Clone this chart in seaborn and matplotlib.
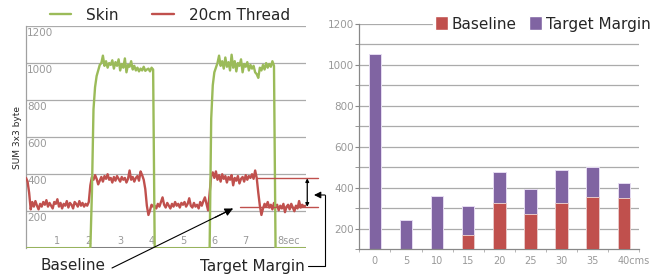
import matplotlib
matplotlib.use("Agg")
import matplotlib.pyplot as plt
import matplotlib.transforms as mtrans
from matplotlib.lines import Line2D
from matplotlib.patches import Patch
import seaborn as sns
import pandas as pd
import numpy as np

# ---- left chart: signal over time (sampled every 0.05 s) ----
t_sec = np.round(np.arange(179) * 0.05, 2)

skin = ([0] * 42 +
        [300, 750, 870, 930, 960, 990, 1000, 1040, 985, 1010,
         975, 1000, 990, 1015, 970, 1005, 985, 1020, 960, 995,
         975, 1025, 950, 990, 980, 1010, 965, 985, 960, 975,
         955, 970, 960, 980, 958, 965, 970, 955, 975, 965] +
        [0] * 36 +
        [700, 880, 950, 975, 1000, 1040, 985, 1010, 970, 1030,
         980, 1005, 960, 1045, 975, 1010, 955, 1000, 985, 1020,
         950, 995, 980, 1005, 960, 990, 970, 985, 950, 940,
         920, 975, 960, 990, 965, 1000, 975, 995, 980, 1010,
         985] +
        [0] * 20)

thread = ([380, 360, 300, 210, 250, 225, 255, 230, 210, 240,
           225, 250, 235, 260, 225, 245, 230, 215, 250, 240,
           265, 225, 245, 215, 240, 230, 255, 220, 245, 235,
           215, 250, 240, 225, 255, 230, 245, 225, 240, 230,
           250, 340] +
          [385, 370, 395, 375, 345, 365, 385, 360, 390, 375,
           400, 370, 380, 355, 385, 365, 390, 375, 360, 385,
           370, 380, 355, 375, 420, 370, 385, 360, 380, 390,
           365, 415, 395, 370, 320, 230, 180, 205, 235, 225] +
          [230, 215, 240, 225, 250, 275, 235, 220, 245, 230,
           215, 240, 225, 250, 230, 240, 220, 245, 235, 250,
           225, 240, 270, 230, 220, 245, 225, 235, 215, 250,
           230, 255, 275, 240, 205, 300] +
          [390, 410, 380, 415, 370, 395, 360, 400, 375, 390,
           355, 385, 370, 395, 340, 380, 365, 390, 350, 375,
           385, 360, 395, 370, 390, 380, 400, 375, 420, 380,
           300, 230, 180, 215, 240, 225, 250, 220, 235, 210,
           245] +
          [225, 235, 205, 230, 215, 240, 195, 225, 235, 210,
           240, 220, 200, 230, 215, 255, 220, 235, 225, 230])

baseline_level = 224
margin_level = 378
sec_labels = ["1", "2", "3", "4", "5", "6", "7", "8sec"]

# ---- right chart: stacked bars by distance ----
dist = ["0", "5", "10", "15", "20", "25", "30", "35", "40cms"]
baseline = [0, 0, 0, 170, 325, 271, 325, 353, 351]
margin = [1052, 240, 360, 140, 150, 121, 159, 147, 71]

GREEN = "#9bbb59"
RED = "#c0504d"
PURPLE = "#8064a2"
GRAY = "#999999"

sns.set_style("white")
plt.rcParams["font.family"] = ["DejaVu Sans"]

fig = plt.figure(figsize=(6.65, 2.75), dpi=100)
W, H = 665.0, 275.0
ax1 = fig.add_axes([26 / W, 1 - 248.3 / H, 280 / W, 222.3 / H])
ax2 = fig.add_axes([359.3 / W, 1 - 249 / H, 280 / W, 225 / H])

# ---------------- left ----------------
ts = pd.DataFrame({"t": t_sec, "skin": skin, "thread": thread})
ax1.set_xlim(0, 8.92)
ax1.set_ylim(0, 1200)
for v in range(200, 1201, 200):
    ax1.axhline(v, color="#ababab", lw=0.9, zorder=0)
    ax1.text(0.004, v - 10, str(v), transform=ax1.get_yaxis_transform(),
             ha="left", va="top", fontsize=7.5, color=GRAY, zorder=1)
for i, lab in enumerate(sec_labels):
    x = i + 1
    ha = "center"
    if lab.endswith("sec"):
        x, ha = 8.02, "left"
    ax1.text(x, 42, lab, ha=ha, va="center", fontsize=7, color=GRAY, zorder=1)
ax1.axhline(0, color="#808080", lw=2.2, zorder=1)

sns.lineplot(data=ts, x="t", y="thread", color=RED, lw=1.7, estimator=None,
             ax=ax1, zorder=3)
sns.lineplot(data=ts, x="t", y="skin", color=GREEN, lw=1.7, estimator=None,
             ax=ax1, zorder=4)

for s in ["top", "right", "bottom"]:
    ax1.spines[s].set_visible(False)
ax1.spines["left"].set_color("#a0a0a0")
ax1.spines["left"].set_linewidth(0.9)
ax1.set_xticks([])
ax1.set_yticks([])
ax1.set_xlabel("")
ax1.set_ylabel("SUM 3x3 byte", fontsize=6.5, labelpad=3)

# margin markers
ax1.plot([7.35, 9.29], [margin_level, margin_level], color=RED, lw=1,
         clip_on=False, zorder=5)
ax1.plot([6.82, 9.29], [baseline_level, baseline_level], color=RED, lw=1,
         clip_on=False, zorder=5)
ax1.annotate("", xy=(8.96, margin_level), xytext=(8.96, baseline_level),
             arrowprops=dict(arrowstyle="<|-|>", color="black", lw=0.9,
                             mutation_scale=5, shrinkA=0, shrinkB=0),
             annotation_clip=False)

ax1.legend(handles=[Line2D([], [], color=GREEN, lw=1.7, label="Skin"),
                    Line2D([], [], color=RED, lw=1.7, label="20cm Thread")],
           loc="center", bbox_to_anchor=(170 / W, 1 - 15 / H),
           bbox_transform=fig.transFigure, ncol=2, frameon=False,
           fontsize=11, handlelength=1.4, handletextpad=1.0,
           columnspacing=2.2, borderpad=0)

# callouts
fig.text(73 / W, 1 - 266 / H, "Baseline", ha="center", va="center", fontsize=11)
fig.text(252.7 / W, 1 - 266 / H, "Target Margin", ha="center", va="center",
         fontsize=11)
fig.add_artist(Line2D([112 / W, 232 / W], [1 - 268 / H, 1 - 209 / H],
                      color="black", lw=0.8, transform=fig.transFigure))
ax1.annotate("", xy=(233 / W, 1 - 208.5 / H), xycoords="figure fraction",
             xytext=(215 / W, 1 - 217.5 / H), textcoords="figure fraction",
             arrowprops=dict(arrowstyle="-|>", color="black", lw=0.8,
                             mutation_scale=12, shrinkA=0, shrinkB=0))
fig.add_artist(Line2D([308 / W, 325 / W, 325 / W],
                      [1 - 266 / H, 1 - 266 / H, 1 - 195 / H],
                      color="black", lw=0.8, transform=fig.transFigure))
ax1.annotate("", xy=(314 / W, 1 - 195 / H), xycoords="figure fraction",
             xytext=(325 / W, 1 - 195 / H), textcoords="figure fraction",
             arrowprops=dict(arrowstyle="-|>", color="black", lw=0.8,
                             mutation_scale=10, shrinkA=0, shrinkB=0))

# ---------------- right ----------------
bars = pd.DataFrame({"dist": dist, "baseline": baseline, "margin": margin})
bars["total"] = bars["baseline"] + bars["margin"]

for v in range(200, 1201, 100):
    ax2.axhline(v, color="#ababab", lw=0.9, zorder=0)
sns.barplot(data=bars, x="dist", y="total", color=PURPLE, saturation=1,
            width=0.4, edgecolor="#e6dcf2", linewidth=0.7, ax=ax2, zorder=2)
sns.barplot(data=bars, x="dist", y="baseline", color=RED, saturation=1,
            width=0.4, edgecolor="#e8c8c8", linewidth=0.7, ax=ax2, zorder=3)
ax2.set_ylim(100, 1200)
ax2.set_xlim(-0.5, 8.5)
ax2.set_yticks(range(200, 1201, 200))
ax2.set_yticks(range(100, 1201, 100), minor=True)
ax2.set_xticks(np.arange(-0.5, 8.6, 1), minor=True)
ax2.tick_params(axis="y", which="both", length=3, color="#888888",
                labelsize=7.5, labelcolor=GRAY, pad=1, left=True)
ax2.tick_params(axis="x", which="major", length=0, labelsize=7,
                labelcolor=GRAY, pad=5)
ax2.tick_params(axis="x", which="minor", length=2, color="#aaaaaa",
                bottom=True)
last = ax2.get_xticklabels()[-1]
last.set_horizontalalignment("left")
last.set_transform(last.get_transform() +
                   mtrans.ScaledTranslation(-6.5 / 100, 0, fig.dpi_scale_trans))
for s in ["top", "right"]:
    ax2.spines[s].set_visible(False)
for s in ["left", "bottom"]:
    ax2.spines[s].set_color("#888888")
    ax2.spines[s].set_linewidth(0.9)
ax2.set_xlabel("")
ax2.set_ylabel("")

leg = ax2.legend(handles=[Patch(facecolor=RED, label="Baseline"),
                          Patch(facecolor=PURPLE, label="Target Margin")],
                 loc="center", bbox_to_anchor=(542.5 / W, 1 - 24 / H),
                 bbox_transform=fig.transFigure, ncol=2, frameon=True,
                 fancybox=False, fontsize=11, handlelength=0.85,
                 handleheight=1.0, handletextpad=0.25, columnspacing=0.8,
                 borderpad=0.1, borderaxespad=0)
leg.get_frame().set_edgecolor("white")
leg.get_frame().set_facecolor("white")
leg.get_frame().set_alpha(1)

fig.savefig("out.png", dpi=100)
